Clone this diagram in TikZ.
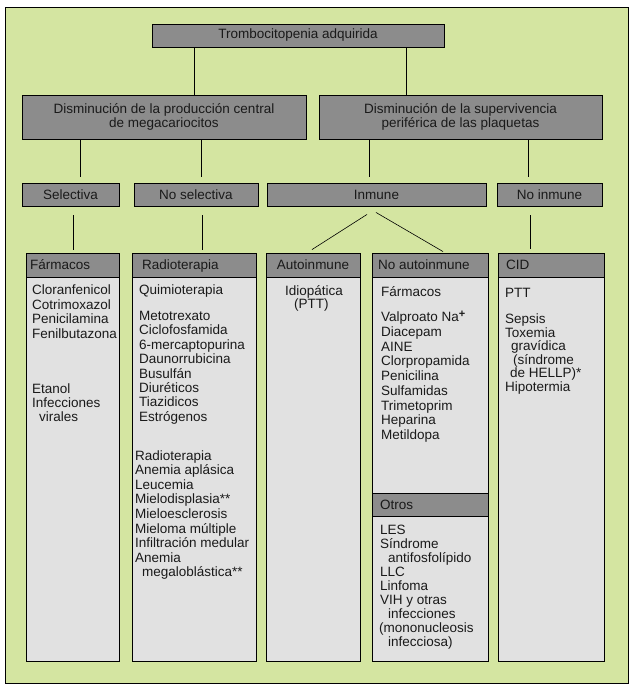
\documentclass[tikz,border=0pt]{standalone}
\usepackage{fontspec}
\setmainfont{Liberation Sans}
\usetikzlibrary{calc}
\definecolor{bggreen}{HTML}{D4E5A1}
\definecolor{hdrgray}{HTML}{8C8C8C}
\definecolor{bodygray}{HTML}{E1E1E1}
\definecolor{txt}{HTML}{1A1A1A}
\begin{document}
\begin{tikzpicture}[x=1pt,y=-1pt,
  every node/.style={font=\fontsize{13.5}{14}\selectfont, text=txt},
  sz/.style 2 args={minimum width=#1pt, minimum height=#2pt},
  hbox/.style={draw=black, fill=hdrgray, line width=0.9pt, inner sep=0pt},
  bbox/.style={draw=black, fill=bodygray, line width=0.9pt, inner sep=0pt},
  item/.style={anchor=base west, inner sep=0pt},
  conn/.style={draw=black, line width=0.8pt}]
\useasboundingbox (0,0) rectangle (630,686);
\fill[white] (0,0) rectangle (630,686);
\draw[fill=bggreen, line width=0.9pt] (5,7) rectangle (628,683);

% top levels
\node[hbox, sz={292}{23}] (top) at (298,35.5) {Trombocitopenia adquirida};
\node[hbox, sz={284}{44}, align=center] (l2a) at (164,117)
  {Disminución de la producción central\\de megacariocitos};
\node[hbox, sz={283}{44}, align=center] (l2b) at (460.5,117)
  {Disminución de la supervivencia\\periférica de las plaquetas};
\node[hbox, sz={97}{23}] (sel) at (70.5,194.5) {Selectiva};
\node[hbox, sz={124}{23}] (nsel) at (196,194.5) {No selectiva};
\node[hbox, sz={219}{23}] (inm) at (376.5,194.5) {Inmune};
\node[hbox, sz={105}{23}] (ninm) at (549.5,194.5) {No inmune};

% columns
\node[bbox, sz={93}{384}] (b1) at (72.5,469) {};
\node[bbox, sz={124}{384}] (b2) at (194,469) {};
\node[bbox, sz={94}{384}] (b3) at (313,469) {};
\node[bbox, sz={116}{384}] (b4) at (430,469) {};
\node[bbox, sz={106}{384}] (b5) at (551,469) {};
\node[hbox, sz={93}{24}] (far) at (72.5,265) {};
\node[hbox, sz={124}{24}] (rad) at (194,265) {};
\node[hbox, sz={94}{24}] (aut) at (313,265) {};
\node[hbox, sz={116}{24}] (nau) at (430,265) {};
\node[hbox, sz={106}{24}] (cid) at (551,265) {};
\node[hbox, sz={116}{23}] (otr) at (430,504.5) {};

\node[item] (tfar) at (30,269.5) {Fármacos};
\node[item] (trad) at (142,269.5) {Radioterapia};
\node[anchor=base, inner sep=0pt] (taut) at (313,269.5) {Autoinmune};
\node[item] (tnau) at (378,269.5) {No autoinmune};
\node[item] (tcid) at (506,269.5) {CID};
\node[item] (totr) at (380,509.5) {Otros};

% connectors
\coordinate (xa) at (194,0); \coordinate (xb) at (406,0);
\coordinate (xc) at (80,0);  \coordinate (xd) at (201,0);
\coordinate (xe) at (369,0); \coordinate (xf) at (528,0);
\coordinate (xg) at (73,0);  \coordinate (xh) at (202,0);
\coordinate (xi) at (530,0);
\draw[conn] (top.south -| xa) -- (l2a.north -| xa);
\draw[conn] (top.south -| xb) -- (l2b.north -| xb);
\draw[conn, shorten >=6pt] (l2a.south -| xc) -- (sel.north -| xc);
\draw[conn, shorten >=6pt] (l2a.south -| xd) -- (nsel.north -| xd);
\draw[conn, shorten >=6pt] (l2b.south -| xe) -- (inm.north -| xe);
\draw[conn, shorten >=6pt] (l2b.south -| xf) -- (ninm.north -| xf);
\draw[conn, shorten <=9pt, shorten >=3pt] (sel.south -| xg) -- (far.north -| xg);
\draw[conn, shorten <=9pt, shorten >=3pt] (nsel.south -| xh) -- (rad.north -| xh);
\draw[conn, shorten <=9pt, shorten >=4pt] (ninm.south -| xi) -- (cid.north -| xi);
\draw[conn, line width=0.6pt] ($(inm.south)+(-9.5,8)$) -- ($(aut.north)+(-1,-3)$);
\draw[conn, line width=0.6pt] ($(inm.south)+(-0.5,6)$) -- ($(nau.north)+(13,-1)$);

% column 1
\foreach \t [count=\i from 0] in {Cloranfenicol,Cotrimoxazol,Penicilamina,Fenilbutazona}
  \node[item] (fa\i) at (32,{294.5+14.5*\i}) {\t};
\node[item] (fb0) at (32,393.5) {Etanol};
\node[item] (fb1) at (32,407.5) {Infecciones};
\node[item] (fb2) at (39,421.5) {virales};

% column 2
\node[item] (ra0) at (139,294.5) {Quimioterapia};
\foreach \t [count=\i from 0] in {Metotrexato,Ciclofosfamida,6-mercaptopurina,Daunorrubicina,Busulfán,Diuréticos,Tiazidicos,Estrógenos}
  \node[item] (rb\i) at (139,{320.5+14.4*\i}) {\t};
\foreach \t [count=\i from 0] in {Radioterapia,Anemia aplásica,Leucemia,Mielodisplasia**,Mieloesclerosis,Mieloma múltiple,Infiltración medular,Anemia}
  \node[item] (rc\i) at (135,{460+14.6*\i}) {\t};
\node[item] (rc8) at (142,{460+14.6*8}) {megaloblástica**};

% column 3
\node[item] (au0) at (285,295) {Idiopática};
\node[item] (au1) at (294,308) {(PTT)};

% column 4
\node[item] (na0) at (381,296.5) {Fármacos};
\node[item] (nb0) at (381,321.5) {Valproato Na\raisebox{4.5pt}{\fontsize{11}{11}\selectfont\textbf{+}}};
\foreach \t [count=\i from 1] in {Diacepam,AINE,Clorpropamida,Penicilina,Sulfamidas,Trimetoprim,Heparina,Metildopa}
  \node[item] (nb\i) at (381,{321.5+14.75*\i}) {\t};
\node[item] (oc0) at (380,534.5) {LES};
\node[item] (oc1) at (380,548.5) {Síndrome};
\node[item] (oc2) at (388,562.5) {antifosfolípido};
\node[item] (oc3) at (380,576.5) {LLC};
\node[item] (oc4) at (380,590.5) {Linfoma};
\node[item] (oc5) at (380,604.5) {VIH y otras};
\node[item] (oc6) at (388,618.5) {infecciones};
\node[item] (oc7) at (379,632.5) {(mononucleosis};
\node[item] (oc8) at (388,646.5) {infecciosa)};

% column 5
\node[item] (ci0) at (505,297.5) {PTT};
\node[item] (ci1) at (505,323.5) {Sepsis};
\node[item] (ci2) at (505,337.1) {Toxemia};
\node[item] (ci3) at (511,350.7) {gravídica};
\node[item] (ci4) at (513,364.3) {(síndrome};
\node[item] (ci5) at (510,377.9) {de HELLP)*};
\node[item] (ci6) at (505,391.5) {Hipotermia};
\end{tikzpicture}
\end{document}
